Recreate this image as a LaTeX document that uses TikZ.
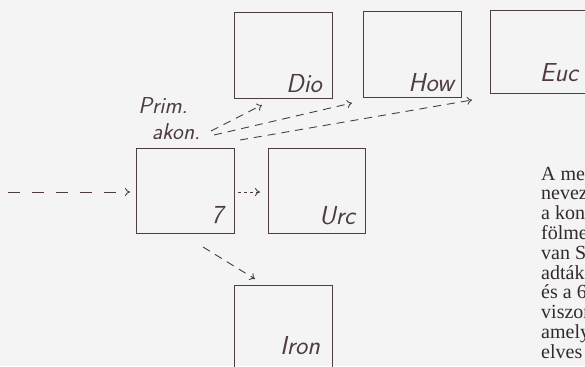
\documentclass[tikz,border=0pt]{standalone}
\usepackage{fontspec}
\newfontfamily\serifR{Liberation Serif}
\usetikzlibrary{arrows.meta}
\definecolor{ink}{RGB}{78,60,62}
\definecolor{paper}{RGB}{244,244,244}
\definecolor{print}{RGB}{50,42,45}
\begin{document}
\begin{tikzpicture}[x=1pt,y=-1pt,
  box/.style={draw=ink, line width=1pt, inner sep=0pt, anchor=north west},
  lab/.style={text=ink, font=\sffamily\itshape\fontsize{26}{26}\selectfont, inner sep=0pt},
  plab/.style={text=ink, font=\sffamily\itshape\fontsize{23}{23}\selectfont, inner sep=0pt},
  tipA/.style={-{To[length=5pt,width=8pt]}},
  arr/.style={draw=ink, line width=0.9pt, dash pattern=on 8pt off 6pt, tipA},
  larr/.style={draw=ink, line width=0.9pt, dash pattern=on 12pt off 12pt, tipA},
  sarr/.style={draw=ink, line width=0.9pt, dash pattern=on 3pt off 3pt, tipA},
  ptext/.style={anchor=base west, inner sep=0pt, text=print, font=\serifR\fontsize{20}{20}\selectfont}]
\fill[paper] (0,0) rectangle (585,366);
\useasboundingbox (0,0) rectangle (585,366);
% boxes
\node[box, minimum width=98pt, minimum height=86pt] (dio) at (234,12) {};
\node[box, minimum width=98pt, minimum height=86pt] (how) at (363,11) {};
\node[box, minimum width=110pt, minimum height=83pt] (euc) at (490,10) {};
\node[box, minimum width=98pt, minimum height=85pt] (seven) at (136,148) {};
\node[box, minimum width=97pt, minimum height=85pt] (ure) at (268,148) {};
\node[box, minimum width=98pt, minimum height=95pt] (iron) at (234,285) {};
% labels
\node[lab] (dioL) at (304,84) {Dio};
\node[lab] (howL) at (431,83) {How};
\node[lab] (eucL) at (559,73) {Euc};
\node[lab] (sevenL) at (217,215) {7};
\node[lab] (ureL) at (337,216) {Urc};
\node[lab] (ironL) at (300,346) {Iron};
\node[plab] (prim) at (163,106) {Prim.};
\node[plab] (akon) at (176,132) {akon.};
% free ends
\coordinate (in0) at (8,192);
\coordinate (in1) at (130,192);
\coordinate (u0) at (238,192);
\coordinate (u1) at (260,192);
\coordinate (r0) at (203,247);
\coordinate (r1) at (255,279);
\coordinate (d0) at (211,131);
\coordinate (d1) at (262,105);
\coordinate (h0) at (214,135);
\coordinate (h1) at (352,103);
\coordinate (e0) at (240,140);
\coordinate (e1) at (472,100);
% arrows
\draw[larr] (in0) -- (in1);
\draw[sarr] (u0) -- (u1);
\draw[arr] (r0) -- (r1);
\draw[arr] (d0) -- (d1);
\draw[arr] (h0) -- (h1);
\draw[arr] (e0) -- (e1);
% printed text on the right
\foreach \t [count=\i] in {A me, nevez, a kon, fölme, van S, adták, és a 6, viszon, amely, elves}
  \node[ptext] (p\i) at (541,{180+19.8*(\i-1)}) {\t};
\end{tikzpicture}
\end{document}
